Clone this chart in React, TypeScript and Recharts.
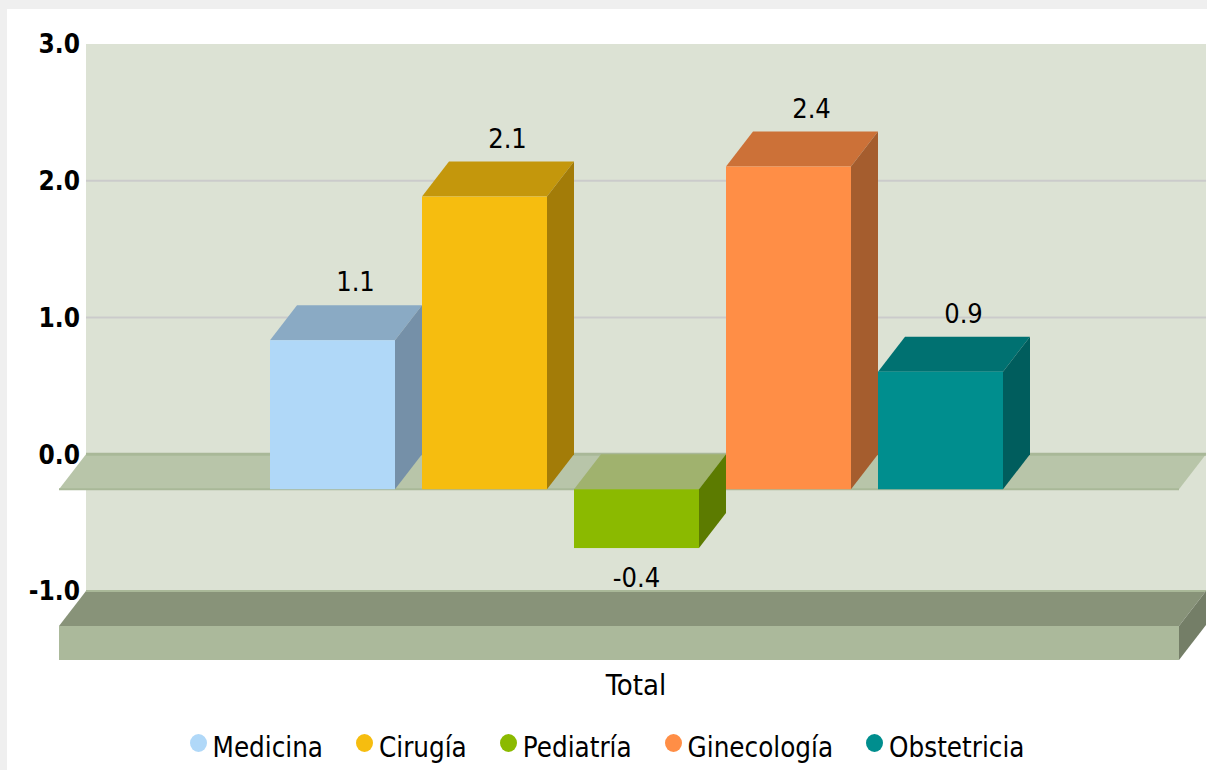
import React from 'react';
import { BarChart, Bar, XAxis, YAxis, CartesianGrid, LabelList, Legend } from 'recharts';

const categories = ['Total'];
const seriesNames = ['Medicina', 'Cirugía', 'Pediatría', 'Ginecología', 'Obstetricia'];
const medicinaValues = [1.09];
const cirugiaValues = [2.14];
const pediatriaValues = [-0.43];
const ginecologiaValues = [2.36];
const obstetriciaValues = [0.86];
const yTicks = [-1, 0, 1, 2, 3];
const gridValues = [1, 2];
const zeroPlaneValues = [0];
const floorValues = [-1];

const seriesValues = [medicinaValues, cirugiaValues, pediatriaValues, ginecologiaValues, obstetriciaValues];
const seriesKeys = ['medicina', 'cirugia', 'pediatria', 'ginecologia', 'obstetricia'];

const frontColors = ['#b0d8f8', '#f6bd0f', '#8bba00', '#ff8e46', '#008e8e'];
const topColors = ['#8aaac4', '#c4970c', '#a0b26e', '#cc7138', '#007171'];
const sideColors = ['#7590a8', '#a37c08', '#5c7b00', '#a55d2e', '#005d5d'];

const data = categories.map((name, i) => {
  const row: any = { name };
  seriesKeys.forEach((k, s) => {
    row[k] = seriesValues[s][i];
  });
  return row;
});

const DX = 27;
const DY = 35;
const FONT = '"DejaVu Sans Condensed", "Liberation Sans", sans-serif';

const make3DShape = (s: number) => (props: any) => {
  const { x, y, width, height } = props;
  const top = Math.min(y, y + height);
  const bottom = Math.max(y, y + height);
  const fx = x - DX;
  return (
    <g>
      <polygon
        points={`${fx},${top + DY} ${x},${top} ${x + width},${top} ${fx + width},${top + DY}`}
        fill={topColors[s]}
      />
      <polygon
        points={`${fx + width},${top + DY} ${x + width},${top} ${x + width},${bottom} ${fx + width},${bottom + DY}`}
        fill={sideColors[s]}
      />
      <rect x={fx} y={top + DY} width={width} height={bottom - top} fill={frontColors[s]} />
    </g>
  );
};

const renderValueLabel = (props: any) => {
  const { x, y, width, height, value } = props;
  const top = Math.min(y, y + height);
  const bottom = Math.max(y, y + height);
  const v = Number(value);
  const common = { textAnchor: 'middle' as const, fontSize: 27, fontFamily: FONT, fill: '#000' };
  if (v >= 0) {
    return (
      <text x={x + width / 2 - 4} y={top - 14} {...common}>
        {v.toFixed(1)}
      </text>
    );
  }
  return (
    <text x={x - DX + width / 2} y={bottom + DY + 39} {...common}>
      {v.toFixed(1)}
    </text>
  );
};

const ZeroPlane = (props: any) => {
  const { x1, x2, y1 } = props;
  const xl = Math.min(x1, x2);
  const xr = Math.max(x1, x2);
  const y = y1;
  return (
    <g key={props.key}>
      <polygon
        points={`${xl},${y} ${xr},${y} ${xr - DX},${y + DY} ${xl - DX},${y + DY}`}
        fill="#b8c5a9"
      />
      <line x1={xl} y1={y} x2={xr} y2={y} stroke="#a9b898" strokeWidth={3} />
      <line x1={xl - DX} y1={y + DY} x2={xr - DX} y2={y + DY} stroke="#a9b898" strokeWidth={2} />
    </g>
  );
};

const FloorSlab = (props: any) => {
  const { x1, x2, y1 } = props;
  const xl = Math.min(x1, x2);
  const xr = Math.max(x1, x2);
  const y = y1;
  const T = 34;
  return (
    <g key={props.key}>
      <polygon
        points={`${xl},${y} ${xr},${y} ${xr - DX},${y + DY} ${xl - DX},${y + DY}`}
        fill="#889379"
      />
      <line x1={xl} y1={y} x2={xr} y2={y} stroke="#a9b898" strokeWidth={2} />
      <rect x={xl - DX} y={y + DY} width={xr - xl} height={T} fill="#abb99b" />
      <polygon
        points={`${xr - DX},${y + DY} ${xr},${y} ${xr},${y + T} ${xr - DX},${y + DY + T}`}
        fill="#747e67"
      />
    </g>
  );
};

const GridLine = (props: any) => {
  const { x1, x2, y1 } = props;
  return <line key={props.key} x1={x1} y1={y1} x2={x2} y2={y1} stroke="#cbcbcb" strokeWidth={2} />;
};

const YTick = (props: any) => {
  const { x, y, payload } = props;
  return (
    <text
      x={x}
      y={y}
      dy="0.36em"
      textAnchor="end"
      fontSize={26}
      fontWeight="bold"
      fontFamily={FONT}
      fill="#000"
    >
      {Number(payload.value).toFixed(1)}
    </text>
  );
};

const XTick = (props: any) => {
  const { x, y, payload } = props;
  return (
    <text x={x - DX} y={y + 96} textAnchor="middle" fontSize={29} fontFamily={FONT} fill="#000">
      {payload.value}
    </text>
  );
};

const renderLegend = (props: any) => {
  const payload = [...(props.payload || [])].sort(
    (a: any, b: any) => seriesNames.indexOf(a.value) - seriesNames.indexOf(b.value)
  );
  return (
    <div
      style={{
        display: 'flex',
        justifyContent: 'center',
        alignItems: 'center',
        fontFamily: FONT,
        fontSize: 27.5,
        color: '#000',
        height: 36,
      }}
    >
      {payload.map((p: any, i: number) => (
        <div
          key={i}
          style={{ display: 'flex', alignItems: 'center', marginRight: i < payload.length - 1 ? 33 : 0 }}
        >
          <span
            style={{
              width: 17,
              height: 18,
              borderRadius: '50%',
              background: p.color,
              display: 'inline-block',
              marginRight: 6,
              position: 'relative',
              top: -4,
            }}
          />
          <span>{p.value}</span>
        </div>
      ))}
    </div>
  );
};

export default function App() {
  return (
    <div
      style={{
        position: 'absolute',
        left: 0,
        top: 0,
        width: 1207,
        height: 770,
        overflow: 'hidden',
        background: '#efefef',
      }}
    >
      <div
        style={{
          position: 'absolute',
          left: 7,
          top: 9,
          right: 0,
          bottom: 0,
          background: '#ffffff',
        }}
      />
      <div style={{ position: 'absolute', left: 0, top: 0 }}>
        <BarChart
          width={1207}
          height={770}
          data={data}
          margin={{ top: 44, right: 1, left: 6, bottom: 83 }}
          barSize={125}
          barGap={27}
        >
          <CartesianGrid
            fill="#dce2d4"
            vertical={false}
            horizontalValues={gridValues}
            horizontal={GridLine}
          />
          <CartesianGrid vertical={false} horizontalValues={zeroPlaneValues} horizontal={ZeroPlane} />
          <CartesianGrid vertical={false} horizontalValues={floorValues} horizontal={FloorSlab} />
          <XAxis
            dataKey="name"
            height={60}
            padding={{ left: 34, right: 0 }}
            axisLine={false}
            tickLine={false}
            tick={XTick}
          />
          <YAxis
            width={80}
            domain={[-1, 3]}
            ticks={yTicks}
            interval={0}
            tickMargin={0}
            axisLine={false}
            tickLine={false}
            tick={YTick}
          />
          <Legend
            content={renderLegend}
            verticalAlign="bottom"
            wrapperStyle={{ left: 7, width: 1200, top: 729, bottom: 'auto', height: 36 }}
          />
          {seriesKeys.map((k, s) => (
            <Bar
              key={k}
              dataKey={k}
              name={seriesNames[s]}
              fill={frontColors[s]}
              isAnimationActive={false}
              shape={make3DShape(s)}
            >
              <LabelList dataKey={k} content={renderValueLabel} />
            </Bar>
          ))}
        </BarChart>
      </div>
    </div>
  );
}
